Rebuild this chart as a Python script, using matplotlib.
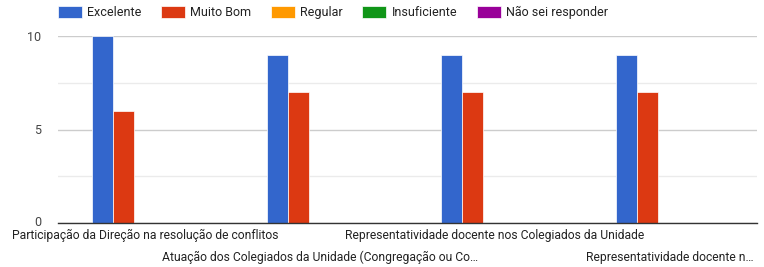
import numpy as np
import matplotlib
matplotlib.use("Agg")
from matplotlib import pyplot as plt
from matplotlib.transforms import ScaledTranslation

plt.rcParams['font.family'] = ['Roboto', 'DejaVu Sans']

categories = [
    "Participação da Direção na resolução de conflitos",
    "Atuação dos Colegiados da Unidade (Congregação ou Co…",
    "Representatividade docente nos Colegiados da Unidade",
    "Representatividade docente n…",
]
series_names = ["Excelente", "Muito Bom", "Regular", "Insuficiente", "Não sei responder"]
excelente = [10, 9, 9, 9]
muito_bom = [6, 7, 7, 7]
regular = [0, 0, 0, 0]
insuficiente = [0, 0, 0, 0]
nao_sei = [0, 0, 0, 0]
series_values = [excelente, muito_bom, regular, insuficiente, nao_sei]
colors = ["#3366cc", "#dc3912", "#ff9900", "#109618", "#990099"]

fig = plt.figure(figsize=(7.64, 2.67), dpi=100)
ax = fig.add_axes([58/764, 44/267, 699/764, 187/267])

x = np.arange(len(categories))
bw = 0.12
for i, (name, vals, c) in enumerate(zip(series_names, series_values, colors)):
    offs = (i - 2) * bw - 0.006
    ax.bar(x + offs, vals, width=bw, color=c, label=name,
           edgecolor="white", linewidth=0.5, zorder=3)

ax.set_xlim(-0.5, len(categories) - 0.5)
ax.set_ylim(0, 10)
ax.set_yticks([0, 5, 10])
ax.set_yticks([2.5, 7.5], minor=True)
ax.grid(axis='y', which='major', color='#cccccc', linewidth=1, zorder=0)
ax.grid(axis='y', which='minor', color='#ebebeb', linewidth=1, zorder=0)
ax.tick_params(axis='y', which='both', length=0, pad=12, labelsize=9, labelcolor='#444444')

# alternate label rows
ax.set_xticks(x[::2])
ax.set_xticklabels(categories[::2])
ax.set_xticks(x[1::2], minor=True)
ax.set_xticklabels(categories[1::2], minor=True)
ax.tick_params(axis='x', which='major', length=0, pad=4, labelsize=8.7, labelcolor='#222222')
ax.tick_params(axis='x', which='minor', length=0, pad=20, labelsize=8.7, labelcolor='#222222')

# nudge the "0" label up a little so it sits above the axis line
zero_lbl = ax.get_yticklabels()[0]
zero_lbl.set_transform(zero_lbl.get_transform() + ScaledTranslation(0, 2/100, fig.dpi_scale_trans))

for s in ['top', 'right', 'left']:
    ax.spines[s].set_visible(False)
ax.spines['bottom'].set_color('#333333')
ax.spines['bottom'].set_linewidth(1)
ax.spines['bottom'].set_zorder(4)

fig.legend(loc='upper left', bbox_to_anchor=(53/764, 1.0 - 1/267), ncol=5, frameon=False,
           fontsize=9, handlelength=1.9, handleheight=1.05, handletextpad=0.45,
           columnspacing=1.55, labelcolor='#222222', borderaxespad=0)

fig.savefig("out.png", dpi=100)
